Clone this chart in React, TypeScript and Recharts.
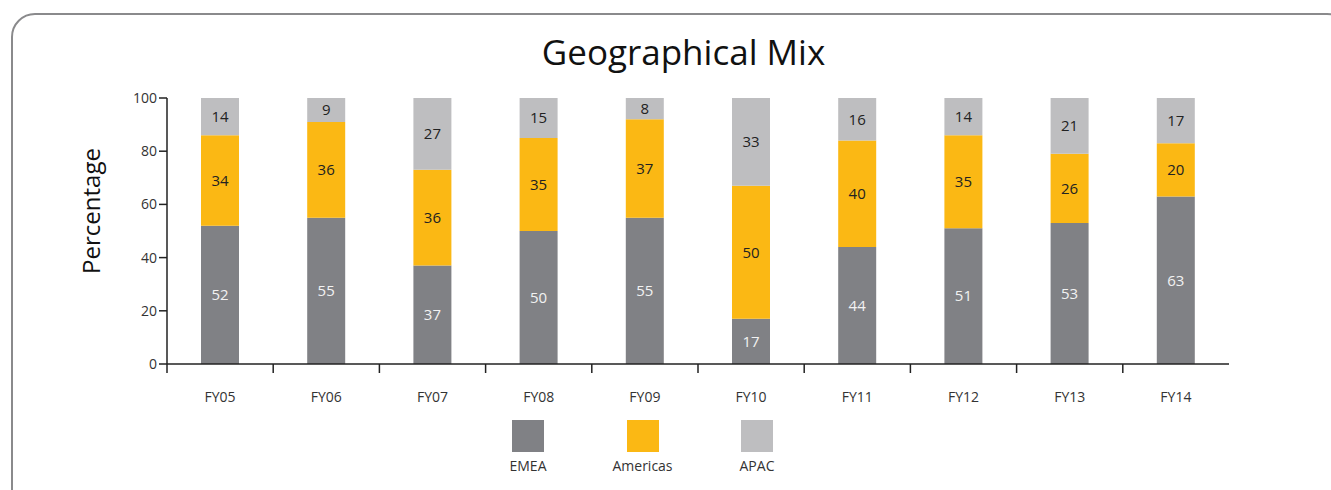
import { BarChart, Bar, XAxis, YAxis, LabelList } from "recharts";

const years = ["FY05", "FY06", "FY07", "FY08", "FY09", "FY10", "FY11", "FY12", "FY13", "FY14"];
const emea = [52, 55, 37, 50, 55, 17, 44, 51, 53, 63];
const americas = [34, 36, 36, 35, 37, 50, 40, 35, 26, 20];
const apac = [14, 9, 27, 15, 8, 33, 16, 14, 21, 17];
const yTicks = [0, 20, 40, 60, 80, 100];

const series = [
  { key: "emea", name: "EMEA", color: "#808185", text: "#f2f2f2" },
  { key: "americas", name: "Americas", color: "#fbb814", text: "#222" },
  { key: "apac", name: "APAC", color: "#bebec0", text: "#222" },
];

const data = years.map((y, i) => ({ year: y, emea: emea[i], americas: americas[i], apac: apac[i] }));

const FONT = "'Open Sans', sans-serif";
const W = 1331;
const H = 490;
// x axis keeps its default 30px height below the plot
const margin = { top: 98, right: 102, bottom: 96, left: 107 };
const band = (W - 167 - margin.right) / years.length;

const XTick = (props: any) => {
  const { x, y, payload } = props;
  const left = x - band / 2;
  return (
    <g>
      <line x1={left} x2={left} y1={y} y2={y + 9} stroke="#222" strokeWidth={1.5} />
      <text x={x} y={y + 38} textAnchor="middle" fontSize={14} fill="#333" fontFamily={FONT}>
        {payload.value}
      </text>
    </g>
  );
};

const LegendBox = () => (
  <div style={{ position: "absolute", left: 0, top: 420, width: W, height: 60 }}>
    {series.map((s, i) => {
      const cx = 528 + i * 114.5;
      return (
        <div key={s.key} style={{ position: "absolute", left: cx - 60, top: 0, width: 120, textAlign: "center" }}>
          <div style={{ width: 32, height: 32, background: s.color, margin: "0 auto" }} />
          <div style={{ fontSize: 14, color: "#333", fontFamily: FONT, marginTop: 4 }}>{s.name}</div>
        </div>
      );
    })}
  </div>
);

export default function App() {
  return (
    <div style={{ position: "absolute", left: 0, top: 0, width: W, height: H, overflow: "hidden", background: "#fff" }}>
      <div
        style={{
          position: "absolute",
          left: 11,
          top: 13,
          width: 1340,
          height: 500,
          border: "2.5px solid #8a8a8c",
          borderRadius: 24,
          boxSizing: "border-box",
        }}
      />
      <div
        style={{
          position: "absolute",
          left: 18,
          top: 28,
          width: W,
          textAlign: "center",
          fontFamily: FONT,
          fontSize: 35,
          color: "#111",
        }}
      >
        Geographical Mix
      </div>
      <div
        style={{
          position: "absolute",
          left: 90,
          top: 211,
          transform: "translate(-50%, -50%) rotate(-90deg)",
          fontFamily: FONT,
          fontSize: 24,
          color: "#111",
          whiteSpace: "nowrap",
        }}
      >
        Percentage
      </div>
      <div style={{ position: "absolute", left: 0, top: 0 }}>
        <BarChart width={W} height={H} data={data} margin={margin} barSize={38}>
          <XAxis
            dataKey="year"
            tickSize={0}
            tickMargin={0}
            tickLine={false}
            interval={0}
            axisLine={{ stroke: "#222", strokeWidth: 1.5 }}
            tick={<XTick />}
          />
          <YAxis
            width={60}
            domain={[0, 100]}
            ticks={yTicks}
            tickSize={8}
            tickMargin={2}
            axisLine={{ stroke: "#222", strokeWidth: 1.5 }}
            tickLine={{ stroke: "#222", strokeWidth: 1.5 }}
            tick={{ fontSize: 14, fill: "#333", fontFamily: FONT }}
          />
          {series.map((s) => (
            <Bar key={s.key} dataKey={s.key} name={s.name} stackId="a" fill={s.color} isAnimationActive={false}>
              <LabelList
                dataKey={s.key}
                position="center"
                fill={s.text}
                fontSize={15}
                fontFamily={FONT}
              />
            </Bar>
          ))}
        </BarChart>
      </div>
      <LegendBox />
    </div>
  );
}
